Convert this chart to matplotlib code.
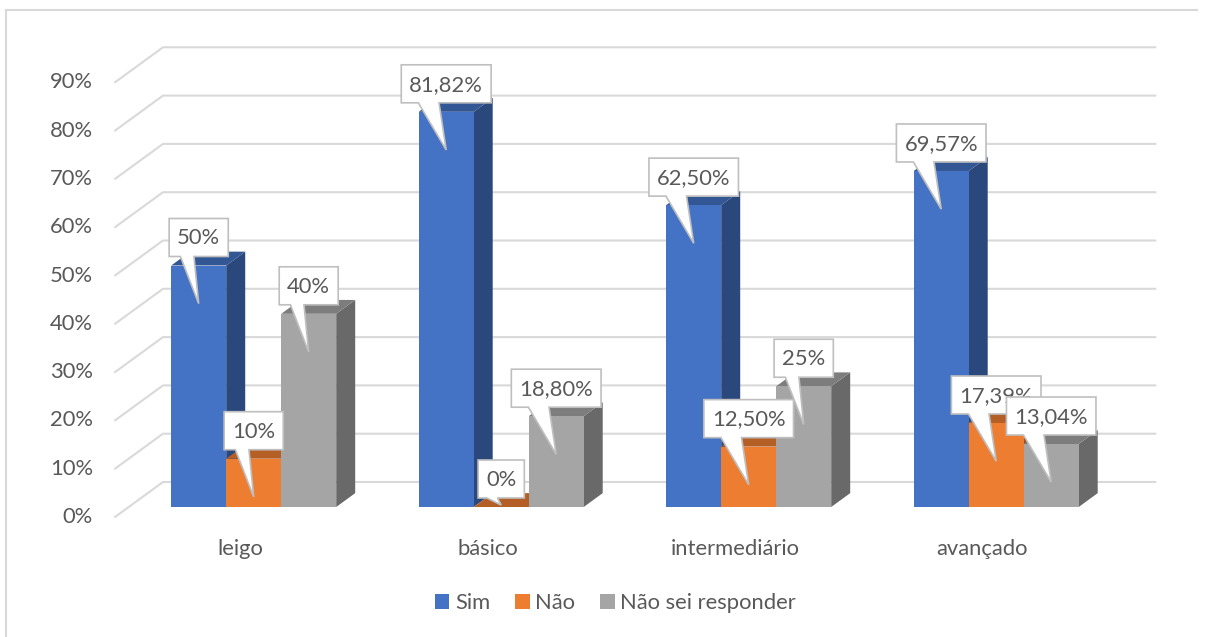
import matplotlib
matplotlib.use("Agg")
import matplotlib.pyplot as plt
from matplotlib.patches import Polygon, Patch
from matplotlib.lines import Line2D

# ---- data -------------------------------------------------------------
categories = ["leigo", "básico", "intermediário", "avançado"]
series_names = ["Sim", "Não", "Não sei responder"]
sim = [50.0, 81.82, 62.50, 69.57]
nao = [10.0, 0.0, 12.50, 17.39]
nao_sei = [40.0, 18.80, 25.0, 13.04]
y_ticks = [0, 10, 20, 30, 40, 50, 60, 70, 80, 90]

series_values = [sim, nao, nao_sei]

# ---- styling ----------------------------------------------------------
plt.rcParams['font.family'] = ['Lato', 'DejaVu Sans']
FONT_SIZE = 15.8
TEXT_COLOR = "#595959"
GRID_COLOR = "#D9D9D9"
FRONT = ["#4472C4", "#ED7D31", "#A5A5A5"]


def shade(hex_color, k):
    r, g, b = (int(hex_color[i:i + 2], 16) for i in (1, 3, 5))
    return "#%02x%02x%02x" % (int(r * k), int(g * k), int(b * k))


TOP = [shade(c, 0.76) for c in FRONT]
SIDE = [shade(c, 0.64) for c in FRONT]

# pixel scale of the axes (data units -> pixels)
W_PX, H_PX = 1206, 637
PX_X = 247.5          # pixels per category step
PX_Y = 4.83           # pixels per percentage point

# oblique depth of the plot box
DXW = 48 / PX_X
DYW = 35 / PX_Y
Z_FRONT = 10 / 35                 # bar front plane (fraction of depth)
Z_BACK = Z_FRONT + 19 / 48        # bar back plane
BAR_W = 55 / PX_X
WALL_L, WALL_R = -0.505, 3.505


def proj(x, v, z):
    return x + z * DXW, v + z * DYW


def fmt(v):
    if abs(v - round(v)) < 1e-9:
        return "%d%%" % round(v)
    return ("%.2f%%" % v).replace(".", ",")


fig = plt.figure(figsize=(W_PX / 100, H_PX / 100), dpi=100)
ax = fig.add_axes([0, 0, 1, 1])
x0 = WALL_L - 115 / PX_X
ax.set_xlim(x0, x0 + W_PX / PX_X)
ax.set_ylim(-(H_PX - 517) / PX_Y, 517 / PX_Y)
ax.axis("off")

# outer chart frame
fig.add_artist(Line2D([6 / W_PX, 6 / W_PX], [0, 1 - 10 / H_PX],
                      transform=fig.transFigure, color=GRID_COLOR, lw=1.5))
fig.add_artist(Line2D([6 / W_PX, 1197 / W_PX], [1 - 10 / H_PX, 1 - 10 / H_PX],
                      transform=fig.transFigure, color=GRID_COLOR, lw=1.5))

# gridlines on the side and back walls, with tick labels
for v in y_ticks:
    pts = [proj(WALL_L, v, 0), proj(WALL_L, v, 1), proj(WALL_R, v, 1)]
    ax.plot([p[0] for p in pts], [p[1] for p in pts], color=GRID_COLOR,
            lw=1.5, solid_capstyle="round", zorder=1)
    ax.text(WALL_L - 22 / PX_X, v, "%d%%" % v, ha="right", va="center",
            fontsize=FONT_SIZE, color=TEXT_COLOR)

# 3-D columns: side, top, then front (left to right so neighbours overlap)
for i in range(len(categories)):
    for j, vals in enumerate(series_values):
        v = vals[i]
        xl = i + (j - 1.5) * BAR_W
        xr = xl + BAR_W
        z = 3 + i * 3 + j * 0.1
        side = [proj(xr, 0, Z_FRONT), proj(xr, 0, Z_BACK),
                proj(xr, v, Z_BACK), proj(xr, v, Z_FRONT)]
        top = [proj(xl, v, Z_FRONT), proj(xr, v, Z_FRONT),
               proj(xr, v, Z_BACK), proj(xl, v, Z_BACK)]
        ax.add_patch(Polygon(side, closed=True, facecolor=SIDE[j],
                             edgecolor="none", zorder=z))
        ax.add_patch(Polygon(top, closed=True, facecolor=TOP[j],
                             edgecolor="none", zorder=z + 0.01))
        cx, base = proj(xl + BAR_W / 2, 0, Z_FRONT)
        ax.bar(cx, v, width=BAR_W, bottom=base, color=FRONT[j],
               edgecolor="none", zorder=z + 0.02)

# category labels
for i, name in enumerate(categories):
    ax.text(i, -6.6, name, ha="center", va="center", fontsize=FONT_SIZE,
            color=TEXT_COLOR)

# callout labels
texts = []
for j, vals in enumerate(series_values):
    for i in range(len(categories)):
        v = vals[i]
        cx, vf = proj(i + (j - 1) * BAR_W, v, Z_FRONT)
        bottom = vf + 9 / PX_Y
        top = bottom + 38 / PX_Y
        t = ax.text(cx, (bottom + top) / 2 - 0.2, fmt(v), ha="center",
                    va="center", fontsize=FONT_SIZE, color=TEXT_COLOR,
                    zorder=21 + j * 2)
        texts.append((t, cx, vf, v, bottom, top, j))

fig.canvas.draw()
renderer = fig.canvas.get_renderer()
for t, cx, vf, v, bottom, top, j in texts:
    w = (t.get_window_extent(renderer).width + 16) / PX_X
    left, right = cx - w / 2, cx + w / 2
    tip_y = max(v - 7.9, 0.4) + (vf - v)
    shape = [(left, bottom), (left + 0.19 * w, bottom), (cx, tip_y),
             (left + 0.42 * w, bottom), (right, bottom), (right, top),
             (left, top)]
    ax.add_patch(Polygon(shape, closed=True, facecolor="white",
                         edgecolor="#BFBFBF", lw=1.2, joinstyle="miter",
                         zorder=20 + j * 2))

# legend
handles = [Patch(facecolor=c, edgecolor="none") for c in FRONT]
ax.legend(handles, series_names, loc="center",
          bbox_to_anchor=(x0 + 615.5 / PX_X, -17.8),
          bbox_transform=ax.transData, ncol=3, frameon=False,
          fontsize=FONT_SIZE, labelcolor=TEXT_COLOR, handlelength=0.65,
          handleheight=0.65, handletextpad=0.25, columnspacing=1.15,
          borderpad=0)

fig.savefig("out.png", dpi=100)
